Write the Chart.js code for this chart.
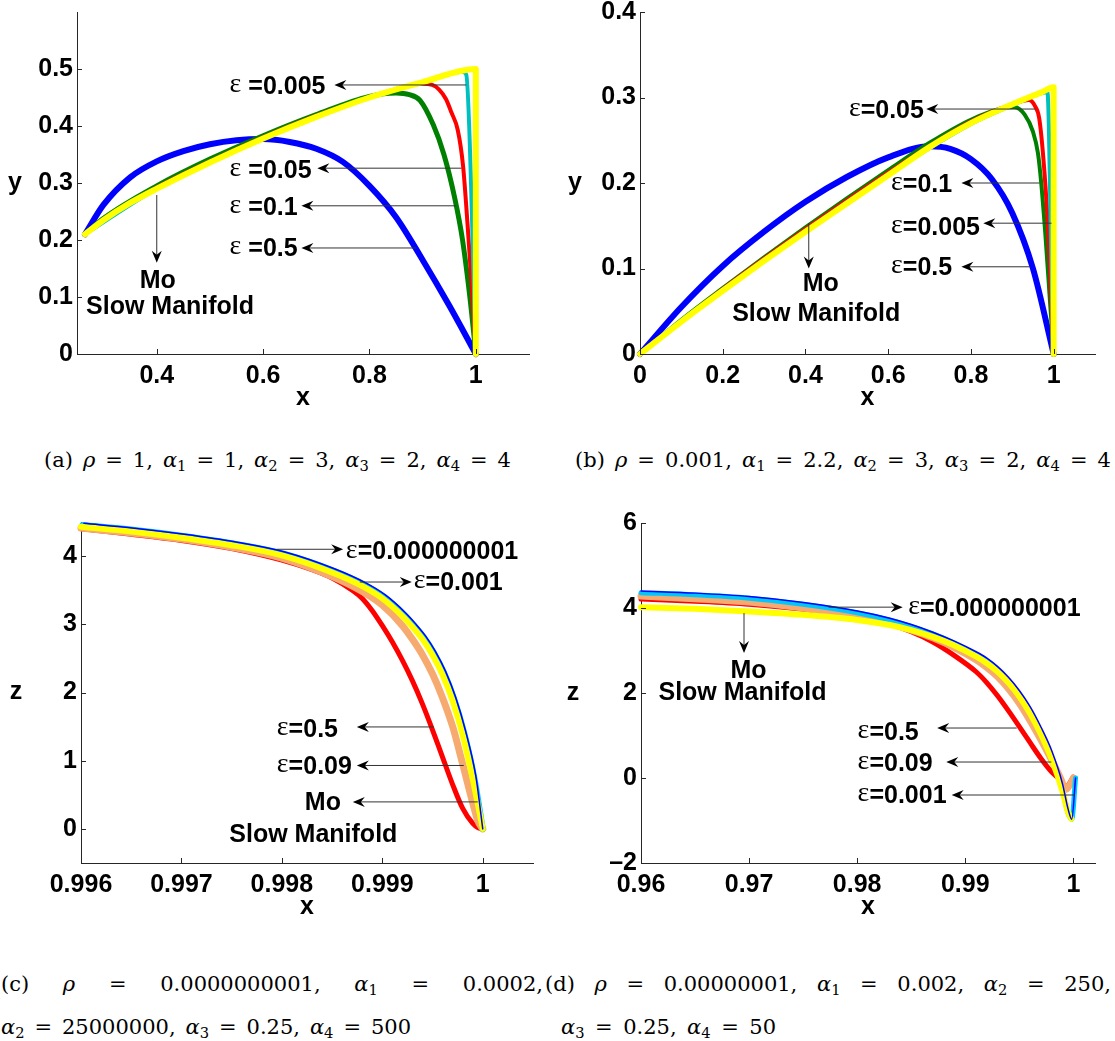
<!DOCTYPE html>
<html>
<head>
<meta charset="utf-8">
<script src="https://cdn.jsdelivr.net/npm/chart.js@4.4.0/dist/chart.umd.min.js"></script>
<style>
  body { margin: 0; background: #fff; width: 1115px; height: 1041px; position: relative; overflow: hidden; }
  canvas { position: absolute; }
  .cap { position: absolute; font-family: "DejaVu Serif", serif; font-size: 21px; line-height: 1; white-space: nowrap; text-align: justify; text-align-last: justify; }
  .cap sub { font-size: 70%; vertical-align: -0.3em; line-height: 0; }
</style>
</head>
<body>
<canvas id="ca" width="550" height="420" style="left:0px;top:0px"></canvas>
<canvas id="cb" width="555" height="420" style="left:560px;top:0px"></canvas>
<canvas id="cc" width="550" height="440" style="left:0px;top:480px"></canvas>
<canvas id="cd" width="555" height="440" style="left:560px;top:480px"></canvas>

<div class="cap" style="left:44px;top:450px;width:467px">(a) <i>ρ</i> = 1, <i>α</i><sub>1</sub> = 1, <i>α</i><sub>2</sub> = 3, <i>α</i><sub>3</sub> = 2, <i>α</i><sub>4</sub> = 4</div>
<div class="cap" style="left:575px;top:450px;width:536px">(b) <i>ρ</i> = 0.001, <i>α</i><sub>1</sub> = 2.2, <i>α</i><sub>2</sub> = 3, <i>α</i><sub>3</sub> = 2, <i>α</i><sub>4</sub> = 4</div>
<div class="cap" style="left:1px;top:974px;width:542px">(c) <i>ρ</i> = 0.0000000001, <i>α</i><sub>1</sub> = 0.0002,</div>
<div class="cap" style="left:545px;top:974px;width:566px">(d) <i>ρ</i> = 0.00000001, <i>α</i><sub>1</sub> = 0.002, <i>α</i><sub>2</sub> = 250,</div>
<div class="cap" style="left:1px;top:1017px;width:410px"><i>α</i><sub>2</sub> = 25000000, <i>α</i><sub>3</sub> = 0.25, <i>α</i><sub>4</sub> = 500</div>
<div class="cap" style="left:561px;top:1017px;width:215px"><i>α</i><sub>3</sub> = 0.25, <i>α</i><sub>4</sub> = 50</div>

<script>
// ---- panel (a) ----
const aTicksX = [0.4, 0.6, 0.8, 1];
const aTicksY = [0, 0.1, 0.2, 0.3, 0.4, 0.5];
const aBlueX = [0.265, 0.3, 0.35, 0.4, 0.45, 0.5, 0.55, 0.6, 0.65, 0.7, 0.75, 0.8, 0.85, 0.9, 0.95, 1.0];
const aBlueY = [0.21, 0.262, 0.31, 0.338, 0.356, 0.368, 0.375, 0.377, 0.372, 0.36, 0.337, 0.295, 0.24, 0.165, 0.085, 0.0];
const aGreenX = [0.265, 0.3, 0.4, 0.5, 0.6, 0.7, 0.8, 0.85, 0.875, 0.895, 0.92, 0.94, 0.96, 0.975, 0.99, 1.0];
const aGreenY = [0.21, 0.238, 0.295, 0.342, 0.383, 0.42, 0.452, 0.458, 0.455, 0.445, 0.402, 0.35, 0.275, 0.2, 0.09, 0.0];
const aRedX = [0.265, 0.3, 0.4, 0.5, 0.6, 0.7, 0.8, 0.87, 0.9, 0.918, 0.931, 0.944, 0.954, 0.966, 0.976, 0.985, 0.993, 1.0];
const aRedY = [0.21, 0.236, 0.292, 0.338, 0.38, 0.418, 0.45, 0.47, 0.474, 0.472, 0.464, 0.447, 0.424, 0.393, 0.33, 0.22, 0.11, 0.0];
const aCyanX = [0.265, 0.4, 0.6, 0.8, 0.9, 0.975, 0.982, 1.0];
const aCyanY = [0.21, 0.29, 0.378, 0.45, 0.477, 0.495, 0.49, 0.0];
const aYellowX = [0.265, 0.3, 0.35, 0.4, 0.5, 0.6, 0.7, 0.8, 0.9, 1.0, 1.0];
const aYellowY = [0.21, 0.235, 0.265, 0.29, 0.336, 0.378, 0.416, 0.45, 0.477, 0.5, 0.0];

// ---- panel (b) ----
const bTicksX = [0, 0.2, 0.4, 0.6, 0.8, 1];
const bTicksY = [0, 0.1, 0.2, 0.3, 0.4];
const bBlueX = [0, 0.1, 0.2, 0.3, 0.4, 0.5, 0.6, 0.7, 0.75, 0.8, 0.85, 0.9, 0.95, 1.0];
const bBlueY = [0, 0.055, 0.103, 0.143, 0.178, 0.207, 0.23, 0.243, 0.24, 0.228, 0.205, 0.165, 0.1, 0];
const bGreenX = [0, 0.1, 0.2, 0.3, 0.4, 0.5, 0.6, 0.7, 0.8, 0.88, 0.905, 0.93, 0.95, 0.962, 0.97, 0.98, 0.99, 1.0];
const bGreenY = [0, 0.04, 0.077, 0.113, 0.148, 0.182, 0.215, 0.247, 0.274, 0.288, 0.289, 0.28, 0.26, 0.235, 0.2, 0.14, 0.07, 0];
const bRedX = [0, 0.2, 0.4, 0.6, 0.8, 0.9, 0.94, 0.955, 0.965, 0.975, 0.985, 0.993, 1.0];
const bRedY = [0, 0.076, 0.146, 0.212, 0.272, 0.292, 0.297, 0.29, 0.276, 0.23, 0.16, 0.08, 0];
const bCyanX = [0, 0.2, 0.4, 0.6, 0.8, 0.9, 0.97, 0.985, 0.995, 1.0];
const bCyanY = [0, 0.075, 0.144, 0.21, 0.269, 0.291, 0.305, 0.306, 0.1, 0];
const bYellowX = [0, 0.1, 0.2, 0.3, 0.4, 0.5, 0.6, 0.7, 0.8, 0.9, 0.97, 1.0, 1.0];
const bYellowY = [0, 0.038, 0.074, 0.109, 0.143, 0.176, 0.209, 0.242, 0.27, 0.292, 0.306, 0.312, 0];

// ---- panel (c) ----
const cTicksX = [0.996, 0.997, 0.998, 0.999, 1];
const cTicksY = [0, 1, 2, 3, 4];
const cRedX = [0.996, 0.9965, 0.997, 0.9975, 0.998, 0.9983, 0.9985, 0.9987, 0.9988, 0.9989, 0.999, 0.9991, 0.9992, 0.9993, 0.9994, 0.9995, 0.9996, 0.9997, 0.9998, 0.9999, 0.99995, 1.0];
const cRedY = [4.40, 4.32, 4.23, 4.11, 3.94, 3.8, 3.68, 3.5, 3.38, 3.2, 2.98, 2.74, 2.47, 2.17, 1.83, 1.45, 1.05, 0.65, 0.3, 0.08, 0.02, 0.0];
const cOrangeX = [0.996, 0.9965, 0.997, 0.9975, 0.998, 0.9985, 0.9988, 0.999, 0.9992, 0.9993, 0.9994, 0.9995, 0.9996, 0.9997, 0.9998, 0.9999, 0.99995, 1.0];
const cOrangeY = [4.41, 4.34, 4.25, 4.13, 3.97, 3.7, 3.48, 3.28, 2.98, 2.78, 2.55, 2.27, 1.92, 1.5, 0.95, 0.38, 0.12, 0.0];
const cCyanX = [0.996015, 0.996515, 0.997015, 0.997515, 0.998015, 0.998515, 0.998815, 0.999015, 0.999215, 0.999315, 0.999415, 0.999515, 0.999615, 0.999715, 0.999815, 0.999915, 1.0];
const cCyanY = [4.455, 4.385, 4.295, 4.185, 4.035, 3.785, 3.585, 3.405, 3.145, 2.985, 2.805, 2.575, 2.285, 1.905, 1.405, 0.755, 0.0];
const cYellowX = [0.996, 0.9965, 0.997, 0.9975, 0.998, 0.9985, 0.9988, 0.999, 0.9992, 0.9993, 0.9994, 0.9995, 0.9996, 0.9997, 0.9998, 0.9999, 1.0];
const cYellowY = [4.43, 4.36, 4.27, 4.16, 4.01, 3.76, 3.56, 3.38, 3.12, 2.96, 2.78, 2.55, 2.26, 1.88, 1.38, 0.73, 0.0];
const cBlueX = [0.99603, 0.99653, 0.99703, 0.99753, 0.99803, 0.99853, 0.99883, 0.99903, 0.99923, 0.99933, 0.99943, 0.99953, 0.99963, 0.99973, 0.99983, 0.99993, 1.0];
const cBlueY = [4.48, 4.41, 4.32, 4.21, 4.06, 3.81, 3.61, 3.43, 3.17, 3.01, 2.83, 2.6, 2.31, 1.93, 1.43, 0.78, 0.0];

// ---- panel (d) ----
const dTicksX = [0.96, 0.97, 0.98, 0.99, 1];
const dTicksY = [-2, 0, 2, 4, 6];
const dRedX = [0.96, 0.965, 0.97, 0.975, 0.98, 0.983, 0.985, 0.987, 0.989, 0.991, 0.992, 0.993, 0.994, 0.995, 0.996, 0.997, 0.998, 0.9986, 0.9993, 1.0];
const dRedY = [4.21, 4.16, 4.09, 3.97, 3.78, 3.62, 3.44, 3.2, 2.88, 2.5, 2.24, 1.93, 1.58, 1.21, 0.83, 0.46, 0.14, 0.0, -0.2, 0.02];
const dOrangeX = [0.96, 0.965, 0.97, 0.975, 0.98, 0.983, 0.985, 0.987, 0.989, 0.991, 0.992, 0.993, 0.994, 0.995, 0.996, 0.997, 0.998, 0.9988, 0.9993, 0.9997, 1.0];
const dOrangeY = [4.28, 4.22, 4.14, 4.0, 3.8, 3.63, 3.48, 3.3, 3.07, 2.78, 2.6, 2.38, 2.1, 1.76, 1.35, 0.9, 0.42, 0.0, -0.27, -0.15, 0.0];
const dCyanX = [0.96, 0.965, 0.97, 0.975, 0.98, 0.983, 0.985, 0.987, 0.989, 0.991, 0.992, 0.993, 0.994, 0.995, 0.996, 0.997, 0.998, 0.999, 0.9995, 0.99985, 1.0002];
const dCyanY = [4.36, 4.31, 4.23, 4.09, 3.89, 3.72, 3.57, 3.39, 3.17, 2.91, 2.75, 2.54, 2.28, 1.96, 1.56, 1.06, 0.48, -0.3, -0.82, -0.97, 0.0];
const dYellowX = [0.96, 0.965, 0.97, 0.975, 0.98, 0.983, 0.985, 0.987, 0.989, 0.991, 0.992, 0.993, 0.994, 0.995, 0.996, 0.997, 0.998, 0.999, 0.9995, 0.9998];
const dYellowY = [4.02, 3.98, 3.92, 3.84, 3.72, 3.6, 3.48, 3.32, 3.12, 2.86, 2.7, 2.5, 2.24, 1.92, 1.52, 1.03, 0.44, -0.32, -0.8, -0.96];
const dBlueX = [0.96, 0.965, 0.97, 0.975, 0.98, 0.983, 0.985, 0.987, 0.989, 0.991, 0.992, 0.993, 0.994, 0.995, 0.996, 0.997, 0.998, 0.999, 0.9995, 0.99985, 1.0002];
const dBlueY = [4.40, 4.35, 4.27, 4.13, 3.93, 3.76, 3.61, 3.43, 3.22, 2.97, 2.82, 2.62, 2.37, 2.06, 1.68, 1.2, 0.64, -0.14, -0.72, -0.97, 0.0];

const BLUE = '#0000ff', GREEN = '#008000', RED = '#ff0000', CYAN = '#00bfbf',
      YELLOW = '#ffff00', ORANGE = '#f6aa70', SKY = '#00c8ff';
const SANS = '"Liberation Sans", Arial, sans-serif';
const SERIF = '"Liberation Serif", "Times New Roman", serif';

function pts(xs, ys) {
  return xs.map((x, i) => ({ x: x, y: ys[i] }));
}

function line(label, xs, ys, color, width) {
  return {
    label: label, data: pts(xs, ys), borderColor: color, borderWidth: width,
    pointRadius: 0, fill: false, cubicInterpolationMode: 'monotone',
    borderCapStyle: 'round', borderJoinStyle: 'round', clip: false
  };
}

function axis(min, max, ticks, size, dir) {
  return {
    type: 'linear', min: min, max: max,
    grid: { display: false, drawTicks: false },
    border: { display: true, color: '#262626', width: 1 },
    afterBuildTicks: s => { s.ticks = ticks.map(v => ({ value: v })); },
    afterFit: s => {
      if (dir === 'x') { s.height = size; s.paddingLeft = 0; s.paddingRight = 0; }
      else { s.width = size; s.paddingTop = 0; s.paddingBottom = 0; }
    },
    ticks: {
      autoSkip: false, maxRotation: 0, color: '#000', padding: dir === 'x' ? 7 : 4,
      font: { family: SANS, size: 25, weight: 'bold' },
      callback: v => v < 0 ? '\u2013' + (-v) : String(v)
    }
  };
}

function drawArrow(ctx, x1, y1, x2, y2) {
  const dx = x2 - x1, dy = y2 - y1, len = Math.hypot(dx, dy);
  const ux = dx / len, uy = dy / len, nx = -uy, ny = ux;
  const hl = 12, hw = 5, notch = 4;
  ctx.strokeStyle = '#333';
  ctx.lineWidth = 1;
  ctx.beginPath();
  ctx.moveTo(x1, y1);
  ctx.lineTo(x2 - ux * notch, y2 - uy * notch);
  ctx.stroke();
  ctx.fillStyle = '#000';
  ctx.beginPath();
  ctx.moveTo(x2, y2);
  ctx.lineTo(x2 - ux * hl + nx * hw, y2 - uy * hl + ny * hw);
  ctx.lineTo(x2 - ux * (hl - notch), y2 - uy * (hl - notch));
  ctx.lineTo(x2 - ux * hl - nx * hw, y2 - uy * hl - ny * hw);
  ctx.closePath();
  ctx.fill();
}

function drawLabel(ctx, text, x, y, center) {
  const epsFont = '28px ' + SERIF, bodyFont = 'bold 25px ' + SANS;
  let eps = '', body = text;
  if (text.startsWith('ε')) { eps = 'ε'; body = text.slice(1); }
  ctx.font = epsFont;
  const we = eps ? ctx.measureText(eps).width : 0;
  ctx.font = bodyFont;
  const wb = ctx.measureText(body).width;
  let left = center ? x - (we + wb) / 2 : x;
  ctx.fillStyle = '#000';
  ctx.textAlign = 'left';
  ctx.textBaseline = 'middle';
  if (eps) {
    ctx.font = epsFont;
    ctx.fillText(eps, left, y - 1);
  }
  ctx.font = bodyFont;
  ctx.fillText(body, left + we, y + 1);
}

const notesPlugin = {
  id: 'notes',
  afterDraw(chart, args, o) {
    const ctx = chart.ctx, xs = chart.scales.x, ys = chart.scales.y, area = chart.chartArea;
    ctx.save();
    // inward tick marks (box off, ticks inside)
    ctx.strokeStyle = '#262626';
    ctx.lineWidth = 1;
    ctx.beginPath();
    xs.ticks.forEach(t => {
      const px = Math.round(xs.getPixelForValue(t.value)) + 0.5;
      ctx.moveTo(px, area.bottom);
      ctx.lineTo(px, area.bottom - 5);
    });
    ys.ticks.forEach(t => {
      const py = Math.round(ys.getPixelForValue(t.value)) + 0.5;
      ctx.moveTo(area.left, py);
      ctx.lineTo(area.left + 5, py);
    });
    ctx.stroke();
    // axis titles
    ctx.fillStyle = '#000';
    ctx.font = 'bold 25px ' + SANS;
    ctx.textAlign = 'center';
    ctx.textBaseline = 'middle';
    ctx.fillText('x', (area.left + area.right) / 2, area.bottom + 44);
    ctx.fillText(o.yTitle, area.left - o.yGap, (area.top + area.bottom) / 2);
    // arrows and labels, placed in data units
    (o.arrows || []).forEach(a => {
      drawArrow(ctx, xs.getPixelForValue(a[0]), ys.getPixelForValue(a[1]),
                xs.getPixelForValue(a[2]), ys.getPixelForValue(a[3]));
    });
    (o.labels || []).forEach(l => {
      drawLabel(ctx, l.t, xs.getPixelForValue(l.x), ys.getPixelForValue(l.y), l.c);
    });
    ctx.restore();
  }
};
Chart.register(notesPlugin);

function makeChart(id, cfg) {
  return new Chart(document.getElementById(id), {
    type: 'line',
    data: { datasets: cfg.datasets },
    options: {
      responsive: false, animation: false, events: [],
      layout: { padding: cfg.pad },
      plugins: { legend: { display: false }, tooltip: { enabled: false }, notes: cfg.notes },
      scales: {
        x: axis(cfg.xRange[0], cfg.xRange[1], cfg.xTicks, cfg.xSize, 'x'),
        y: axis(cfg.yRange[0], cfg.yRange[1], cfg.yTicks, cfg.ySize, 'y')
      }
    }
  });
}

makeChart('ca', {
  xRange: [0.25, 1.1], yRange: [0, 0.6], xTicks: aTicksX, yTicks: aTicksY,
  xSize: 66, ySize: 77, pad: { top: 12, right: 21, left: 0, bottom: 0 },
  datasets: [
    line('Mo slow manifold', aYellowX, aYellowY, YELLOW, 6),
    line('ε=0.005', aCyanX, aCyanY, CYAN, 4),
    line('ε=0.05', aRedX, aRedY, RED, 4),
    line('ε=0.1', aGreenX, aGreenY, GREEN, 5),
    line('ε=0.5', aBlueX, aBlueY, BLUE, 6)
  ],
  notes: {
    yTitle: 'y', yGap: 62,
    labels: [
      { t: 'ε =0.005', x: 0.537, y: 0.470 },
      { t: 'ε =0.05', x: 0.537, y: 0.323 },
      { t: 'ε =0.1', x: 0.537, y: 0.258 },
      { t: 'ε =0.5', x: 0.537, y: 0.186 },
      { t: 'Mo', x: 0.402, y: 0.130, c: true },
      { t: 'Slow Manifold', x: 0.425, y: 0.084, c: true }
    ],
    arrows: [
      [0.982, 0.472, 0.734, 0.472],
      [0.973, 0.326, 0.702, 0.326],
      [0.963, 0.260, 0.672, 0.260],
      [0.888, 0.186, 0.672, 0.186],
      [0.400, 0.279, 0.400, 0.160]
    ]
  }
});

makeChart('cb', {
  xRange: [0, 1.1], yRange: [0, 0.4], xTicks: bTicksX, yTicks: bTicksY,
  xSize: 66, ySize: 80, pad: { top: 12, right: 20, left: 0, bottom: 0 },
  datasets: [
    line('Mo slow manifold', bYellowX, bYellowY, YELLOW, 6),
    line('ε=0.005', bCyanX, bCyanY, CYAN, 4),
    line('ε=0.05', bRedX, bRedY, RED, 4),
    line('ε=0.1', bGreenX, bGreenY, GREEN, 4),
    line('ε=0.5', bBlueX, bBlueY, BLUE, 6)
  ],
  notes: {
    yTitle: 'y', yGap: 65,
    labels: [
      { t: 'ε=0.05', x: 0.505, y: 0.2854 },
      { t: 'ε=0.1', x: 0.607, y: 0.199 },
      { t: 'ε=0.005', x: 0.607, y: 0.1485 },
      { t: 'ε=0.5', x: 0.607, y: 0.102 },
      { t: 'Mo', x: 0.437, y: 0.083, c: true },
      { t: 'Slow Manifold', x: 0.426, y: 0.048, c: true }
    ],
    arrows: [
      [0.956, 0.2865, 0.692, 0.2865],
      [0.966, 0.2, 0.777, 0.2],
      [0.995, 0.153, 0.830, 0.153],
      [0.942, 0.102, 0.777, 0.102],
      [0.408, 0.153, 0.408, 0.10]
    ]
  }
});

makeChart('cc', {
  xRange: [0.996, 1.0005], yRange: [-0.5, 4.5], xTicks: cTicksX, yTicks: cTicksY,
  xSize: 57, ySize: 81, pad: { top: 42, right: 17, left: 0, bottom: 0 },
  datasets: [
    line('ε=0.000000001', cBlueX, cBlueY, BLUE, 1.5),
    line('Mo slow manifold', cYellowX, cYellowY, YELLOW, 6),
    line('ε=0.001', cCyanX, cCyanY, SKY, 6),
    line('ε=0.09', cOrangeX, cOrangeY, ORANGE, 7),
    line('ε=0.5', cRedX, cRedY, RED, 5)
  ],
  notes: {
    yTitle: 'z', yGap: 65,
    labels: [
      { t: 'ε=0.000000001', x: 0.998637, y: 4.07 },
      { t: 'ε=0.001', x: 0.999313, y: 3.62 },
      { t: 'ε=0.5', x: 0.99795, y: 1.465 },
      { t: 'ε=0.09', x: 0.99795, y: 0.923 },
      { t: 'Mo', x: 0.998408, y: 0.396, c: true },
      { t: 'Slow Manifold', x: 0.998313, y: -0.073, c: true }
    ],
    arrows: [
      [0.99795, 4.10, 0.99861, 4.10],
      [0.998776, 3.62, 0.999293, 3.62],
      [0.999512, 1.495, 0.998746, 1.495],
      [0.999811, 0.93, 0.998746, 0.93],
      [0.99995, 0.396, 0.998706, 0.396]
    ]
  }
});

makeChart('cd', {
  xRange: [0.96, 1.002], yRange: [-2, 6], xTicks: dTicksX, yTicks: dTicksY,
  xSize: 57, ySize: 81, pad: { top: 43, right: 20, left: 0, bottom: 0 },
  datasets: [
    line('ε=0.000000001', dBlueX, dBlueY, BLUE, 1.5),
    line('Mo slow manifold', dYellowX, dYellowY, YELLOW, 6),
    line('ε=0.001', dCyanX, dCyanY, SKY, 5),
    line('ε=0.09', dOrangeX, dOrangeY, ORANGE, 7),
    line('ε=0.5', dRedX, dRedY, RED, 5)
  ],
  notes: {
    yTitle: 'z', yGap: 68,
    labels: [
      { t: 'ε=0.000000001', x: 0.98472, y: 4.0 },
      { t: 'Mo', x: 0.96995, y: 2.54, c: true },
      { t: 'Slow Manifold', x: 0.96939, y: 2.02, c: true },
      { t: 'ε=0.5', x: 0.98004, y: 1.08 },
      { t: 'ε=0.09', x: 0.98004, y: 0.353 },
      { t: 'ε=0.001', x: 0.98004, y: -0.40 }
    ],
    arrows: [
      [0.97734, 4.02, 0.98421, 4.02],
      [0.96953, 3.88, 0.96953, 2.94],
      [0.99476, 1.176, 0.98740, 1.176],
      [0.99796, 0.376, 0.98824, 0.376],
      [1.00015, -0.40, 0.98874, -0.40]
    ]
  }
});
</script>
</body>
</html>
